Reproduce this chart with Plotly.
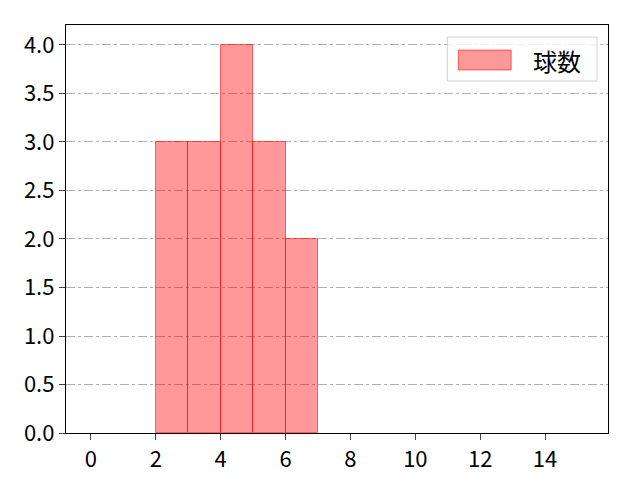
import plotly.graph_objects as go

# histogram bins (left edges) and counts
bin_starts = [2, 3, 4, 5, 6]
counts = [3, 3, 4, 3, 2]
x_ticks = [0, 2, 4, 6, 8, 10, 12, 14]
y_ticks = [0.0, 0.5, 1.0, 1.5, 2.0, 2.5, 3.0, 3.5, 4.0]
series_name = "球数"

fill = "rgba(255,0,0,0.4)"
edge = "rgba(255,0,0,0.55)"

fig = go.Figure()
fig.add_trace(go.Bar(
    x=bin_starts, y=counts,
    width=1, offset=0,
    marker=dict(color=fill, line=dict(color=edge, width=1)),
    name=series_name,
    showlegend=False,
))

# legend drawn by hand (wide patch like matplotlib)
shapes = [
    dict(type="rect", xref="paper", yref="paper", x0=0.7035, x1=0.9797, y0=0.8627, y1=0.9706,
         line=dict(color="#d0d0d0", width=1), fillcolor="rgba(255,255,255,0.8)", layer="above"),
    dict(type="rect", xref="paper", yref="paper", x0=0.7238, x1=0.8214, y0=0.8897, y1=0.9387,
         line=dict(color=edge, width=1), fillcolor=fill, layer="above"),
]
annotations = [
    dict(text=series_name, xref="paper", yref="paper", x=0.906, y=0.914,
         xanchor="center", yanchor="middle", showarrow=False, font=dict(size=24)),
]

fig.update_layout(
    width=640, height=480,
    margin=dict(l=58, r=40, t=17, b=55),
    plot_bgcolor="white", paper_bgcolor="white",
    font=dict(family="Noto Sans CJK JP", size=22, color="black"),
    bargap=0,
    shapes=shapes,
    annotations=annotations,
    xaxis=dict(
        range=[-0.77, 15.94], tickvals=x_ticks,
        showline=True, linecolor="black", linewidth=1.3, mirror=True,
        ticks="outside", ticklen=6, tickwidth=1.3, showgrid=False, zeroline=False,
    ),
    yaxis=dict(
        range=[0, 4.206], tickvals=y_ticks, tickformat=".1f",
        showline=True, linecolor="black", linewidth=1.3, mirror=True,
        ticks="outside", ticklen=6, tickwidth=1.3, zeroline=False,
        showgrid=True, gridcolor="#b0b0b0", griddash="dashdot", gridwidth=0.8,
    ),
)

fig.write_html("out.html")
